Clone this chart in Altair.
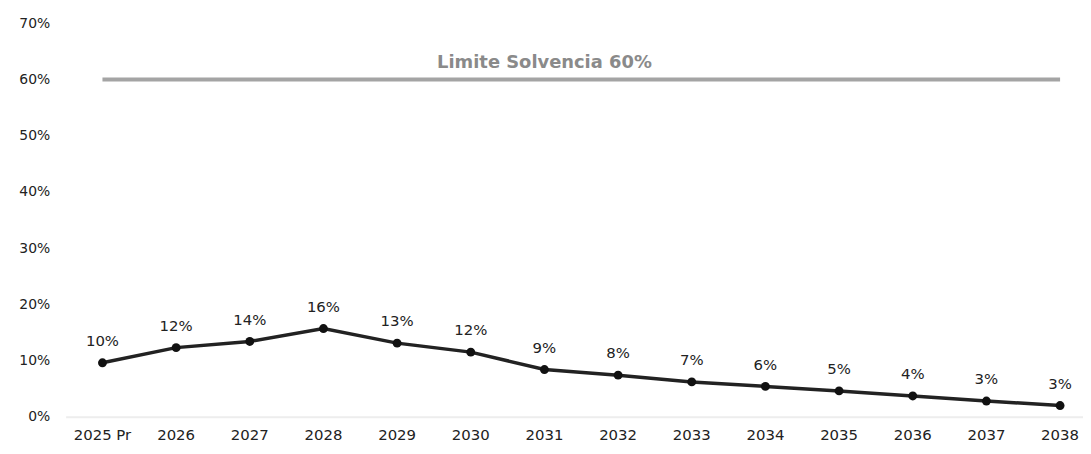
import altair as alt
import pandas as pd

years = ["2025 Pr", "2026", "2027", "2028", "2029", "2030", "2031", "2032",
         "2033", "2034", "2035", "2036", "2037", "2038"]
values = [9.6, 12.3, 13.4, 15.7, 13.1, 11.5, 8.4, 7.4, 6.2, 5.4, 4.6, 3.7, 2.8, 2.0]
labels = ["10%", "12%", "14%", "16%", "13%", "12%", "9%", "8%", "7%", "6%", "5%", "4%", "3%", "3%"]
limit_value = 60
limit_text = "Limite Solvencia 60%"

df = pd.DataFrame({"year": years, "value": values, "label": labels})
lim = pd.DataFrame({"x": [years[0]], "x2": [years[-1]], "y": [limit_value],
                    "t": [limit_text], "tx": ["2031"]})

FONT = "DejaVu Sans"
xscale = alt.Scale(domain=years, range=[6, 1044], padding=0)
yscale = alt.Scale(domain=[0, 70])

xenc = alt.X("year:O", scale=xscale, sort=years,
             axis=alt.Axis(title=None, labelAngle=0, labelAlign="center", labelBaseline="top",
                           ticks=False, domain=True, bandPosition=0.5, labelFlush=False,
                           labelBound=False, domainColor="#ededed", domainWidth=2,
                           labelPadding=11, labelFontSize=15, labelColor="#222",
                           labelFont=FONT))
yenc = alt.Y("value:Q", scale=yscale,
             axis=alt.Axis(title=None, values=[0, 10, 20, 30, 40, 50, 60, 70],
                           labelExpr="datum.value + '%'", ticks=False, domain=False,
                           grid=False, labelPadding=10, labelFontSize=14,
                           labelColor="#222", labelFont=FONT))

line = alt.Chart(df).mark_line(color="#222", strokeWidth=3.5).encode(x=xenc, y=yenc)
pts = alt.Chart(df).mark_point(filled=True, color="#111", size=80, opacity=1).encode(
    x=alt.X("year:O", scale=xscale, sort=years), y=alt.Y("value:Q", scale=yscale))
txt = alt.Chart(df).mark_text(dy=-22, fontSize=15, color="#222", font=FONT).encode(
    x=alt.X("year:O", scale=xscale, sort=years), y=alt.Y("value:Q", scale=yscale),
    text="label:N")

rule = alt.Chart(lim).mark_rule(color="#a4a4a4", strokeWidth=4).encode(
    x=alt.X("x:O", scale=xscale, sort=years), x2="x2",
    y=alt.Y("y:Q", scale=yscale))
ltxt = alt.Chart(lim).mark_text(dy=-17, fontSize=18, fontWeight="bold", color="#8a8a8a",
                                font=FONT).encode(
    x=alt.X("tx:O", scale=xscale, sort=years), y=alt.Y("y:Q", scale=yscale), text="t:N")

chart = (rule + ltxt + line + pts + txt).properties(
    width=1030, height=396,
    autosize=alt.AutoSizeParams(type="none"),
    padding={"left": 52, "top": 14, "right": 0, "bottom": 28},
    background="white",
).configure_view(strokeWidth=0)

chart.save("out.html", embed_options={"renderer": "svg", "actions": False})
